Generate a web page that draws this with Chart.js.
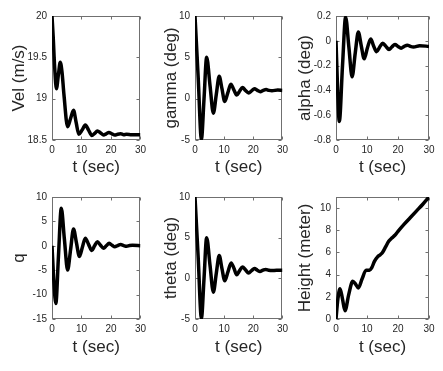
<!DOCTYPE html>
<html>
<head>
<meta charset="utf-8">
<script src="https://cdn.jsdelivr.net/npm/chart.js@4.4.1/dist/chart.umd.min.js"></script>
<style>
  html, body { margin: 0; padding: 0; background: #fff; }
  #fig { position: relative; width: 443px; height: 371px; overflow: hidden; }
  #fig canvas { position: absolute; }
</style>
</head>
<body>
<div id="fig">
  <canvas id="vel"></canvas>
  <canvas id="gamma"></canvas>
  <canvas id="alpha"></canvas>
  <canvas id="q"></canvas>
  <canvas id="theta"></canvas>
  <canvas id="height"></canvas>
</div>
<script>
// values (time in sec)
const velT = [0, 0.4, 0.9, 1.5, 2.2, 2.8, 3.4, 4.05, 5.3, 6.3, 7.3, 8.2, 9.1, 10.2, 11.3, 12.4, 13.5, 14.5, 15.4, 16.5, 17.5, 18.4, 19.3, 20.3, 21.3, 22.3, 23.3, 24.3, 25.3, 27, 30];
const velY = [20, 19.75, 19.38, 19.12, 19.3, 19.44, 19.32, 19.05, 18.66, 18.76, 18.86, 18.71, 18.57, 18.62, 18.68, 18.62, 18.555, 18.58, 18.61, 18.585, 18.56, 18.575, 18.59, 18.575, 18.56, 18.57, 18.575, 18.565, 18.57, 18.565, 18.565];

const gammaT = [0, 1.1, 2.2, 3.1, 4.0, 5.15, 6.3, 7.3, 8.3, 9.25, 10.2, 11.25, 12.3, 13.3, 14.3, 15.3, 16.3, 17.3, 18.4, 19.4, 20.4, 21.4, 22.4, 23.4, 24.4, 25.4, 26.4, 28.4, 30];
const gammaY = [10, 2.5, -4.9, 0, 5.0, 1.6, -1.75, 0.5, 2.7, 1.2, -0.35, 0.7, 1.75, 1.1, 0.45, 0.9, 1.35, 1.0, 0.7, 0.95, 1.2, 1.0, 0.85, 1.0, 1.1, 1.0, 0.95, 1.05, 1.0];

const alphaT = [0, 0.5, 1.07, 2.1, 3.1, 4.15, 5.2, 6.2, 7.2, 8.15, 9.1, 10.1, 11.2, 12.1, 13.1, 14.1, 15.1, 16.1, 17.1, 18, 19, 20, 21, 22, 23, 24, 25, 27, 30];
const alphaY = [0, -0.38, -0.65, -0.2, 0.19, -0.05, -0.29, -0.1, 0.07, -0.04, -0.145, -0.06, 0.015, -0.04, -0.088, -0.05, -0.02, -0.045, -0.07, -0.05, -0.03, -0.045, -0.06, -0.045, -0.035, -0.045, -0.05, -0.04, -0.045];

const qT = [0, 0.6, 1.3, 2.2, 3.15, 4.2, 5.3, 6.3, 7.3, 8.3, 9.3, 10.3, 11.3, 12.4, 13.5, 14.4, 15.4, 16.4, 17.5, 18.4, 19.4, 20.4, 21.3, 22.3, 23.3, 24.3, 25.3, 26.3, 27.3, 30];
const qY = [0, -7, -11.8, -2, 7.7, 1.4, -4.96, -0.8, 3.44, 0.6, -2.2, -0.3, 1.53, 0.3, -0.96, -0.05, 0.84, 0.15, -0.5, 0, 0.5, 0.1, -0.2, 0.05, 0.25, 0.05, -0.1, 0.05, 0.1, 0];

const thetaT = [0, 1.1, 2.2, 3.1, 4.0, 5.15, 6.3, 7.3, 8.3, 9.25, 10.2, 11.3, 12.4, 13.4, 14.3, 15.3, 16.3, 17.3, 18.4, 19.4, 20.4, 21.4, 22.3, 23.3, 24.3, 25.3, 26.3, 28, 30];
const thetaY = [10, 2.5, -4.9, 0, 5.0, 1.6, -1.7, 0.6, 2.8, 1.2, -0.3, 0.8, 1.9, 1.2, 0.45, 0.95, 1.4, 1.05, 0.65, 0.95, 1.2, 1.0, 0.85, 1.0, 1.1, 1.0, 0.95, 1.0, 1.0];

const heightT = [0, 0.6, 1.3, 2.1, 2.9, 4.1, 5.4, 6.3, 7.2, 8.4, 9.7, 10.8, 11.5, 12.4, 13.4, 14.3, 15.0, 16.0, 17.0, 18.0, 19.0, 20, 22, 24, 26, 28, 30];
const heightY = [0, 1.8, 2.73, 1.8, 0.75, 2.2, 3.4, 3.15, 2.8, 3.6, 4.4, 4.4, 4.6, 5.2, 5.6, 5.8, 6.0, 6.5, 7.0, 7.3, 7.55, 7.9, 8.55, 9.15, 9.75, 10.35, 11.0];

const FONT = '"Liberation Sans", Arial, sans-serif';
const INK = '#262626';

// draws the matlab style box with inward ticks on all four sides
const boxPlugin = {
  id: 'matlabBox',
  beforeDatasetsDraw(chart) {
    const { ctx, chartArea: a, scales: { x, y } } = chart;
    const L = Math.round(a.left) + 0.5, R = Math.round(a.right) - 0.5;
    const T = Math.round(a.top) + 0.5, B = Math.round(a.bottom) - 0.5;
    ctx.save();
    ctx.strokeStyle = '#707070';
    ctx.lineWidth = 1;
    ctx.strokeRect(L, T, R - L, B - T);
    ctx.beginPath();
    x.ticks.forEach(t => {
      const px = Math.round(x.getPixelForValue(t.value)) + 0.5;
      ctx.moveTo(px, B); ctx.lineTo(px, B - 3);
      ctx.moveTo(px, T); ctx.lineTo(px, T + 3);
    });
    y.ticks.forEach(t => {
      const py = Math.round(y.getPixelForValue(t.value)) + 0.5;
      ctx.moveTo(L, py); ctx.lineTo(L + 3, py);
      ctx.moveTo(R, py); ctx.lineTo(R - 3, py);
    });
    ctx.stroke();
    ctx.restore();
  }
};

// panel geometry: region of the figure and the axes box inside it
const colEdges = [[0, 150], [150, 292], [292, 443]];
const rowEdges = [[0, 185], [185, 371]];
const boxX = [[52, 144], [195, 286], [336, 429]];
const boxY = [[16, 140], [197, 319]];
const yTitleOffset = [11, 13, 4.5];
const xTitleOffset = [9.5, 15];

function makePanel(id, row, col, tArr, yArr, yAxis, yTitle) {
  const canvas = document.getElementById(id);
  const [rl, rr] = colEdges[col];
  const [rt, rb] = rowEdges[row];
  canvas.width = rr - rl;
  canvas.height = rb - rt;
  canvas.style.left = rl + 'px';
  canvas.style.top = rt + 'px';

  const points = tArr.map((t, i) => ({ x: t, y: yArr[i] }));
  const fmt = v => String(Math.round(v * 100) / 100);

  return new Chart(canvas, {
    type: 'line',
    data: {
      datasets: [{
        data: points,
        borderColor: '#000',
        borderWidth: 3.5,
        pointRadius: 0,
        fill: false,
        cubicInterpolationMode: 'monotone'
      }]
    },
    options: {
      responsive: false,
      animation: false,
      events: [],
      layout: {
        padding: {
          left: 0,
          bottom: 0,
          top: boxY[row][0] - rt,
          right: rr - boxX[col][1]
        }
      },
      plugins: { legend: { display: false }, tooltip: { enabled: false } },
      scales: {
        x: {
          type: 'linear',
          min: 0,
          max: 30,
          grid: { display: false, drawTicks: false },
          border: { display: false },
          ticks: { stepSize: 10, padding: 4, color: INK, font: { family: FONT, size: 10 }, maxRotation: 0, callback: fmt },
          title: { display: true, text: 't (sec)', color: INK, font: { family: FONT, size: 17, lineHeight: 1 }, padding: { top: 0, bottom: xTitleOffset[row] } },
          afterFit(s) { s.height = rb - boxY[row][1]; }
        },
        y: {
          type: 'linear',
          min: yAxis.min,
          max: yAxis.max,
          grid: { display: false, drawTicks: false },
          border: { display: false },
          ticks: { stepSize: yAxis.step, includeBounds: yAxis.bounds !== false, padding: 5, color: INK, font: { family: FONT, size: 10 }, callback: fmt },
          title: { display: true, text: yTitle, color: INK, font: { family: FONT, size: 17, lineHeight: 1 }, padding: { top: yTitleOffset[col], bottom: 0 } },
          afterFit(s) { s.width = boxX[col][0] - rl; }
        }
      }
    },
    plugins: [boxPlugin]
  });
}

makePanel('vel', 0, 0, velT, velY, { min: 18.5, max: 20, step: 0.5 }, 'Vel (m/s)');
makePanel('gamma', 0, 1, gammaT, gammaY, { min: -5, max: 10, step: 5 }, 'gamma (deg)');
makePanel('alpha', 0, 2, alphaT, alphaY, { min: -0.8, max: 0.2, step: 0.2 }, 'alpha (deg)');
makePanel('q', 1, 0, qT, qY, { min: -15, max: 10, step: 5 }, 'q');
makePanel('theta', 1, 1, thetaT, thetaY, { min: -5, max: 10, step: 5 }, 'theta (deg)');
makePanel('height', 1, 2, heightT, heightY, { min: 0, max: 11, step: 2, bounds: false }, 'Height (meter)');
</script>
</body>
</html>
